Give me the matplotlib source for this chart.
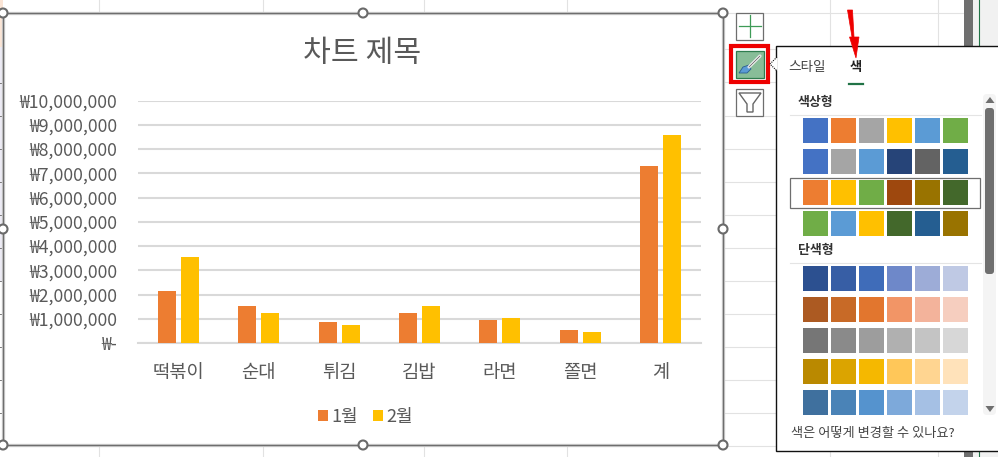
import matplotlib
matplotlib.use("Agg")
import matplotlib.pyplot as plt
from matplotlib.patches import Rectangle, Circle, Polygon, FancyBboxPatch
import numpy as np

plt.rcParams['font.family'] = ['Noto Sans CJK KR', 'DejaVu Sans']

categories = ['떡볶이', '순대', '튀김', '김밥', '라면', '쫄면', '계']
jan_values = [2150000, 1520000, 870000, 1240000, 950000, 540000, 7300000]
feb_values = [3550000, 1240000, 740000, 1520000, 1030000, 450000, 8580000]
tick_values = [0, 1000000, 2000000, 3000000, 4000000, 5000000, 6000000, 7000000, 8000000, 9000000, 10000000]
tick_labels = ['₩-', '₩1,000,000', '₩2,000,000', '₩3,000,000', '₩4,000,000', '₩5,000,000',
               '₩6,000,000', '₩7,000,000', '₩8,000,000', '₩9,000,000', '₩10,000,000']
series_names = ['1월', '2월']
series_colors = ['#ED7D31', '#FFC000']
colorful_rows = [
    ['#4472C4', '#ED7D31', '#A5A5A5', '#FFC000', '#5B9BD5', '#70AD47'],
    ['#4472C4', '#A5A5A5', '#5B9BD5', '#264478', '#636363', '#255E91'],
    ['#ED7D31', '#FFC000', '#70AD47', '#9E480E', '#997300', '#43682B'],
    ['#70AD47', '#5B9BD5', '#FFC000', '#43682B', '#255E91', '#997300'],
]
mono_rows = [
    ['#2C5090', '#375EA5', '#3F6CB9', '#6E88C9', '#9DACD7', '#BFC9E4'],
    ['#AC5A22', '#C86A27', '#E2762E', '#F29566', '#F3B39B', '#F6CEBF'],
    ['#767676', '#8A8A8A', '#9D9D9D', '#B0B0B0', '#C4C4C4', '#D7D7D7'],
    ['#BA8900', '#DBA400', '#F5B800', '#FFC759', '#FFD591', '#FFE2BA'],
    ['#3F709E', '#4A83B7', '#5593CE', '#7DA9DA', '#A5C0E4', '#C3D3EB'],
]

W, H = 998, 457
fig = plt.figure(figsize=(W / 100, H / 100), dpi=100, facecolor='white')

# sheet background and chart frame, in pixel coordinates
bg = fig.add_axes([0, 0, 1, 1], zorder=0)
bg.set_xlim(0, W); bg.set_ylim(H, 0); bg.axis('off')
for x in [99, 263, 424, 567, 830, 938]:
    bg.plot([x, x], [0, H], color='#E2E2E2', lw=0.8, zorder=1)
for y in [13, 49, 82, 116, 149, 182, 215, 248, 281, 314, 347, 380, 413, 446]:
    bg.plot([724, 964], [y, y], color='#E2E2E2', lw=0.8, zorder=1)
bg.add_patch(Rectangle((0, 0), 3, 47, fc='#FBE5D6', ec='none', zorder=2))
bg.add_patch(Rectangle((0, 47), 3, 235, fc='#EDEBF5', ec='none', zorder=2))
for y in [83, 116, 149, 182, 215, 248, 281, 314, 347, 380, 413]:
    bg.plot([0, 3], [y, y], color='#777777', lw=0.7, zorder=2)
bg.add_patch(Rectangle((964, 0), 9, H, fc='#6F6F6F', ec='none', zorder=2))
bg.add_patch(Rectangle((973, 0), 25, H, fc='#F1F1F1', ec='none', zorder=2))
bg.plot([979, 979], [0, H], color='#217346', lw=0.8, zorder=3)
bg.add_patch(Rectangle((3, 13), 720, 432, fc='white', ec='#D4D4D4', lw=2.4, zorder=4))
bg.add_patch(Rectangle((3, 13), 720, 432, fc='none', ec='#6E6E6E', lw=1, zorder=5))
bg.text(362, 53, '차트 제목', ha='center', va='center', fontsize=21.8, color='#595959', zorder=6)

# chart
left, right, top, bottom = 138, 701, 100.5, 343
ax = fig.add_axes([left / W, 1 - bottom / H, (right - left) / W, (bottom - top) / H], zorder=2)
ax.patch.set_alpha(0)
x = np.arange(len(categories))
bar_w = 18 / 80.43
offset = 11.5 / 80.43
ax.bar(x - offset, jan_values, bar_w, color=series_colors[0], label=series_names[0], zorder=3)
ax.bar(x + offset, feb_values, bar_w, color=series_colors[1], label=series_names[1], zorder=3)
ax.set_xlim(-0.5, len(categories) - 0.5)
ax.set_ylim(0, 10000000)
ax.set_yticks(tick_values, tick_labels, fontsize=12.7, color='#595959')
ax.set_xticks(x, categories, fontsize=13.5, color='#595959')
ax.tick_params(axis='both', length=0)
ax.tick_params(axis='y', pad=15)
ax.tick_params(axis='x', pad=14)
ax.grid(axis='y', color='#D9D9D9', lw=1.5, zorder=1)
ax.set_axisbelow(True)
for s in ['top', 'left', 'right']:
    ax.spines[s].set_visible(False)
ax.spines['bottom'].set_color('#D9D9D9')
ax.spines['bottom'].set_linewidth(1.5)
ax.legend(loc='center', bbox_to_anchor=((365.5 - left) / (right - left), (bottom - 417) / (bottom - top)),
          ncol=2, frameon=False, fontsize=13, labelcolor='#595959',
          handlelength=0.55, handleheight=0.55, handletextpad=0.22, columnspacing=0.8, borderpad=0)

# overlay: handles, side buttons, colour panel
ov = fig.add_axes([0, 0, 1, 1], zorder=3)
ov.set_xlim(0, W); ov.set_ylim(H, 0); ov.axis('off'); ov.patch.set_alpha(0)
for cx, cy in [(3, 13), (363, 13), (723, 13), (3, 229), (723, 229), (3, 445), (363, 445), (723, 445)]:
    ov.add_patch(Circle((cx, cy), 4.5, fc='white', ec='#6A6A6A', lw=1.5))

ov.add_patch(Rectangle((736.5, 12.5), 27, 27, fc='white', ec='#6E6E6E', lw=0.9))
ov.plot([750, 750], [15, 37], color='#3E9B57', lw=0.9)
ov.plot([739, 761], [25.5, 25.5], color='#3E9B57', lw=0.9)

ov.add_patch(Rectangle((731, 46), 37, 36, fc='white', ec='#EE0000', lw=3))
ov.add_patch(Rectangle((736, 50.5), 28, 27, fc='#88BD98', ec='#2F7D4F', lw=0.9))
ov.plot([749, 760], [67, 56], color='#F2F2F2', lw=2.2, solid_capstyle='round')
ov.plot([749, 760], [67, 56], color='#555555', lw=0.5)
ov.add_patch(Polygon([[739, 73], [743, 67], [749, 65], [751, 69], [747, 73]], fc='#5B9BD5', ec='#2B5F8F', lw=0.6))

ov.add_patch(Rectangle((736.5, 88.5), 27, 27, fc='white', ec='#6E6E6E', lw=0.9))
ov.add_patch(Polygon([[739, 93], [761, 93], [753, 104], [753, 112], [747, 112], [747, 104]],
                     fc='white', ec='#666666', lw=1))

# panel
ov.add_patch(Rectangle((776.5, 45.5), 240, 405.5, fc='white', ec='#111111', lw=1))
ov.add_patch(Polygon([[777.5, 57], [770, 64], [777.5, 71]], fc='white', ec='none', zorder=4))
ov.plot([777, 770, 777], [57, 64, 71], color='#111111', lw=0.8, ls=(0, (1, 1)), zorder=5)
ov.text(807, 67, '스타일', ha='center', va='center', fontsize=9.8, color='#444444')
ov.text(856, 67, '색', ha='center', va='center', fontsize=9.5, color='#222222', fontweight='bold')
ov.plot([849, 863], [84, 84], color='#217346', lw=1.6)
ov.add_patch(Polygon([[847.5, 10], [852.5, 10], [854, 37], [859, 37], [856, 58], [849.5, 37], [852, 37]],
                     fc='#EE0000', ec='#EE0000', lw=0.5, zorder=6))

ov.text(798, 102, '색상형', ha='left', va='center', fontsize=9.3, color='#333333', fontweight='bold')
ov.plot([790, 981], [114.5, 114.5], color='#E4E4E4', lw=0.8)
ov.add_patch(Rectangle((790.5, 177.5), 190, 30, fc='white', ec='#6E6E6E', lw=0.9))
for r, row in enumerate(colorful_rows):
    for c, col in enumerate(row):
        ov.add_patch(Rectangle((803 + 28 * c, 118 + 31 * r), 25, 25, fc=col, ec='none'))
ov.text(798, 250, '단색형', ha='left', va='center', fontsize=9.3, color='#333333', fontweight='bold')
ov.plot([790, 981], [262.5, 262.5], color='#E4E4E4', lw=0.8)
for r, row in enumerate(mono_rows):
    for c, col in enumerate(row):
        ov.add_patch(Rectangle((803 + 28 * c, 266 + 31 * r), 25, 25, fc=col, ec='none'))
ov.text(791, 434, '색은 어떻게 변경할 수 있나요?', ha='left', va='center', fontsize=9.5, color='#444444')

# scrollbar
ov.add_patch(FancyBboxPatch((983, 94), 13, 321, boxstyle='round,pad=0,rounding_size=4', fc='#F4F4F4', ec='none'))
ov.add_patch(FancyBboxPatch((985, 108), 9, 166, boxstyle='round,pad=0,rounding_size=3', fc='#6F6F6F', ec='none'))
ov.add_patch(Polygon([[985.5, 103], [994.5, 103], [990, 97]], fc='#6F6F6F', ec='none'))
ov.add_patch(Polygon([[985.5, 406], [994.5, 406], [990, 412]], fc='#6F6F6F', ec='none'))

fig.savefig('out.png', dpi=100, facecolor='white')
